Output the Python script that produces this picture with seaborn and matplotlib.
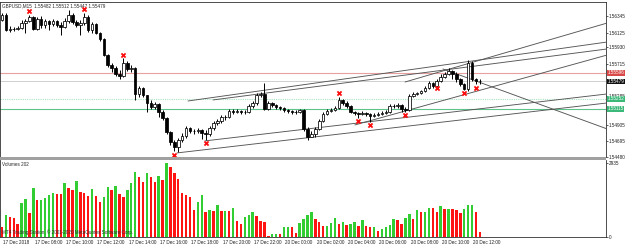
import numpy as np
import pandas as pd
import matplotlib
matplotlib.use("Agg")
import matplotlib.pyplot as plt
import matplotlib.transforms as mtrans
from matplotlib.patches import Rectangle
import seaborn as sns

sns.set_style("white")
plt.rcParams['font.family'] = ['Liberation Sans', 'DejaVu Sans']

# GBPUSD M15 bars, open = previous close
first_open = 1.56292
close = [1.56358, 1.56160, 1.56173, 1.56167, 1.56186, 1.56252, 1.56279, 1.56332, 1.56173, 1.56305,
         1.56226, 1.56279, 1.56239, 1.56279, 1.56226, 1.56200, 1.56279, 1.56358, 1.56266, 1.56226,
         1.56252, 1.56332, 1.56160, 1.56239, 1.56120, 1.56041, 1.55829, 1.55697, 1.55658, 1.55578,
         1.55552, 1.55724, 1.55644, 1.55658, 1.55314, 1.55393, 1.55301, 1.55195, 1.55142, 1.55182,
         1.55076, 1.54997, 1.54812, 1.54679, 1.54613, 1.54706, 1.54759, 1.54864, 1.54825, 1.54818,
         1.54838, 1.54798, 1.54785, 1.54864, 1.54930, 1.54957, 1.55010, 1.55003, 1.55089, 1.55076,
         1.55089, 1.55069, 1.55076, 1.55155, 1.55195, 1.55301, 1.55314, 1.55116, 1.55195, 1.55168,
         1.55142, 1.55129, 1.55096, 1.55089, 1.55069, 1.55076, 1.55096, 1.54851, 1.54745, 1.54785,
         1.54851, 1.54957, 1.55049, 1.55089, 1.55102, 1.55129, 1.55235, 1.55195, 1.55155, 1.55076,
         1.55056, 1.55049, 1.55063, 1.55043, 1.55016, 1.55036, 1.55049, 1.55063, 1.55076, 1.55155,
         1.55148, 1.55168, 1.55116, 1.55096, 1.55287, 1.55314, 1.55320, 1.55347, 1.55393, 1.55459,
         1.55413, 1.55486, 1.55539, 1.55578, 1.55618, 1.55578, 1.55512, 1.55446, 1.55380, 1.55724,
         1.55512, 1.55482, 1.55479]
high = [1.56385, 1.56385, 1.56213, 1.56200, 1.56213, 1.56292, 1.56305, 1.56358, 1.56345, 1.56332,
        1.56345, 1.56305, 1.56292, 1.56305, 1.56292, 1.56266, 1.56319, 1.56424, 1.56385, 1.56292,
        1.56292, 1.56385, 1.56358, 1.56266, 1.56252, 1.56133, 1.56054, 1.55843, 1.55724, 1.55684,
        1.55631, 1.55790, 1.55750, 1.55697, 1.55671, 1.55420, 1.55406, 1.55301, 1.55235, 1.55208,
        1.55195, 1.55102, 1.55010, 1.54825, 1.54706, 1.54732, 1.54798, 1.54891, 1.54878, 1.54851,
        1.54864, 1.54851, 1.54838, 1.54891, 1.54957, 1.54983, 1.55036, 1.55036, 1.55116, 1.55116,
        1.55116, 1.55102, 1.55102, 1.55182, 1.55221, 1.55327, 1.55340, 1.55459, 1.55221, 1.55208,
        1.55182, 1.55155, 1.55142, 1.55116, 1.55102, 1.55102, 1.55116, 1.55116, 1.54878, 1.54825,
        1.54878, 1.54983, 1.55076, 1.55116, 1.55129, 1.55155, 1.55274, 1.55248, 1.55221, 1.55168,
        1.55089, 1.55076, 1.55089, 1.55076, 1.55063, 1.55063, 1.55076, 1.55089, 1.55102, 1.55182,
        1.55182, 1.55195, 1.55182, 1.55142, 1.55314, 1.55340, 1.55340, 1.55367, 1.55420, 1.55486,
        1.55472, 1.55512, 1.55578, 1.55605, 1.55658, 1.55631, 1.55605, 1.55525, 1.55459, 1.55763,
        1.55750, 1.55525, 1.55512]
low = [1.56279, 1.56147, 1.56133, 1.56147, 1.56160, 1.56173, 1.56120, 1.56266, 1.56160, 1.56160,
       1.56186, 1.56186, 1.56160, 1.56213, 1.56200, 1.56094, 1.56186, 1.56252, 1.56239, 1.56200,
       1.56094, 1.56226, 1.56133, 1.56120, 1.56107, 1.56015, 1.55816, 1.55671, 1.55605, 1.55552,
       1.55512, 1.55539, 1.55618, 1.55605, 1.55235, 1.55274, 1.55274, 1.55076, 1.55116, 1.55116,
       1.55010, 1.54970, 1.54785, 1.54640, 1.54560, 1.54547, 1.54679, 1.54732, 1.54798, 1.54785,
       1.54798, 1.54719, 1.54706, 1.54759, 1.54838, 1.54904, 1.54930, 1.54970, 1.54997, 1.55049,
       1.55063, 1.55049, 1.55049, 1.55063, 1.55129, 1.55168, 1.55274, 1.55102, 1.55102, 1.55142,
       1.55116, 1.55102, 1.55076, 1.55063, 1.55049, 1.55049, 1.55063, 1.54825, 1.54706, 1.54745,
       1.54745, 1.54838, 1.54944, 1.55036, 1.55076, 1.55089, 1.55116, 1.55168, 1.55129, 1.55063,
       1.55036, 1.54997, 1.55036, 1.55023, 1.54944, 1.55010, 1.55023, 1.55036, 1.55049, 1.55063,
       1.55129, 1.55129, 1.55076, 1.55076, 1.55089, 1.55274, 1.55301, 1.55314, 1.55340, 1.55380,
       1.55393, 1.55433, 1.55472, 1.55525, 1.55565, 1.55512, 1.55472, 1.55420, 1.55367, 1.55354,
       1.55486, 1.55446, 1.55447]
volume = [397, 874, 795, 755, 517, 1351, 1510, 954, 1947, 1455,
          1485, 1550, 1669, 1749, 1709, 1690, 2146, 1947, 1868, 2225,
          1788, 1749, 1629, 1908, 1629, 1391, 1590, 1987, 1868, 2027,
          1709, 1590, 1868, 2146, 2583, 2384, 2186, 2543, 2384, 2186,
          2424, 2265, 2935, 2782, 2543, 2305, 1749, 1669, 1590, 1073,
          1391, 1669, 994, 1073, 1033, 1272, 1020, 1040, 1030, 1152,
          636, 517, 795, 874, 994, 835, 636, 596, 40, 119,
          130, 115, 397, 410, 390, 159, 556, 715, 874, 994,
          715, 596, 437, 450, 556, 755, 517, 596, 477, 517,
          596, 437, 676, 430, 397, 410, 238, 318, 397, 477,
          715, 676, 517, 755, 914, 715, 1073, 994, 1010, 1152,
          1140, 994, 1232, 1113, 1125, 1110, 1073, 954, 1113, 1272,
          1280, 994, 202]

time_ticks = list(range(0, 121, 8))
time_labels = ["17 Dec 2018", "17 Dec 08:00", "17 Dec 10:00", "17 Dec 12:00", "17 Dec 14:00",
               "17 Dec 16:00", "17 Dec 18:00", "17 Dec 20:00", "17 Dec 22:00", "20 Dec 00:00",
               "20 Dec 02:00", "20 Dec 04:00", "20 Dec 06:00", "20 Dec 08:00", "20 Dec 10:00",
               "20 Dec 12:00"]
price_ticks = [1.56345, 1.56125, 1.55930, 1.55715, 1.55285, 1.54905, 1.54695, 1.54480]

# red crosses
mark_bar = [7, 21, 31, 44, 52, 86, 91, 94, 103, 111, 118, 121]
mark_price = [1.56411, 1.56437, 1.55829, 1.54507, 1.54666, 1.55327, 1.54957, 1.54904,
              1.55036, 1.55393, 1.55327, 1.55393]

# trend lines: start bar/price, end bar/price
tl_bar0 = [47.5, 53.9, 102.9, 90.1, 112.6, 44.7, 51.8]
tl_p0 = [1.55221, 1.55235, 1.55472, 1.54904, 1.55644, 1.54534, 1.54693]
tl_bar1 = [154.5, 154.5, 154.5, 154.5, 154.5, 154.5, 154.5]
tl_p1 = [1.56001, 1.55909, 1.56252, 1.55829, 1.54851, 1.55195, 1.55314]

level_red = 1.55596
level_bid = 1.55479
level_green1 = 1.55252
level_green2 = 1.55115
vol_max = 2935

title = "GBPUSD,M15  1.55482 1.55512 1.55447 1.55479"
fs = 3.3

close = np.array(close)
high = np.array(high)
low = np.array(low)
n = len(close)
bars = np.arange(n)
opens = np.r_[first_open, close[:-1]]

W, H = 625, 247
fig = plt.figure(figsize=(W / 100, H / 100), dpi=100)
fig.patch.set_facecolor('white')


def box(x0, y0, x1, y1):
    return [x0 / W, 1 - y1 / H, (x1 - x0) / W, (y1 - y0) / H]


ax = fig.add_axes(box(0, 2, 606, 157))
axv = fig.add_axes(box(0, 160, 606, 237))
x_lim = (-0.51, 154.2)

# price panel
up = close >= opens
body_lo = np.minimum(opens, close)
body_h = np.maximum(np.abs(close - opens), 0.00002)
ax.vlines(bars, low, high, color='black', lw=0.7, zorder=3)
ax.bar(bars, body_h, bottom=body_lo, width=0.66,
       color=np.where(up, 'white', 'black'), edgecolor='black', linewidth=0.55, zorder=4)

ax.axhline(level_red, color='#e8a0a0', lw=0.8, zorder=1)
ax.axhline(level_bid, color='#c8c8c8', lw=0.6, zorder=1)
ax.axhline(level_green1, color='#a8e4bc', lw=0.8, ls=(0, (1, 1)), zorder=1)
ax.axhline(level_green2, color='#5cc48c', lw=0.8, zorder=1)

for b0, p0, b1, p1 in zip(tl_bar0, tl_p0, tl_bar1, tl_p1):
    ax.plot([b0, b1], [p0, p1], color='#555555', lw=0.65, zorder=2)

ax.scatter(mark_bar, mark_price, marker='x', color='#ff1010', s=9, linewidths=1.3, zorder=6)

ax.set_xlim(*x_lim)
ax.set_ylim(1.54481, 1.56530)
ax.set_xticks([])
ax.yaxis.tick_right()
ax.set_yticks(price_ticks)
ax.set_yticklabels([f"{p:.5f}" for p in price_ticks], fontsize=fs)
ax.tick_params(axis='y', length=1.5, width=0.5, pad=0.5, colors='#202020')
for s in ['left', 'top', 'right']:
    ax.spines[s].set_color('#303030')
    ax.spines[s].set_linewidth(0.6)
ax.spines['bottom'].set_visible(False)
ax.text(0.004, 0.99, title, transform=ax.transAxes, fontsize=fs, va='top', ha='left')

trans = mtrans.blended_transform_factory(ax.transAxes, ax.transData)
for lvl, face in [(level_red, '#d84848'), (level_bid, '#101010'),
                  (level_green1, '#3cb878'), (level_green2, '#3cb878')]:
    ax.text(1.003, lvl, f"{lvl:.5f}", transform=trans, fontsize=fs, color='white',
            va='center', ha='left', clip_on=False, zorder=7,
            bbox=dict(facecolor=face, edgecolor='none', pad=0.3))

# separator band
fig.add_artist(Rectangle((0, 1 - 160 / H), 606 / W, 3 / H, transform=fig.transFigure,
                         facecolor='#a0a0a0', edgecolor='none'))

# volume panel
vol = np.array(volume)
direction = np.where(np.r_[False, vol[1:] > vol[:-1]], 'up', 'down')
df = pd.DataFrame({'bar': bars, 'volume': vol, 'dir': direction})
sns.barplot(data=df, x='bar', y='volume', hue='dir', palette={'up': '#32cd32', 'down': '#ff1414'},
            dodge=False, native_scale=True, width=0.62, saturation=1, legend=False,
            errorbar=None, linewidth=0, antialiased=False, ax=axv)
axv.set_xlim(*x_lim)
axv.set_ylim(0, 3060)
axv.set_xlabel('')
axv.set_ylabel('')
axv.yaxis.tick_right()
axv.set_yticks([0, vol_max])
axv.set_yticklabels(['0', str(vol_max)], fontsize=fs)
axv.tick_params(axis='y', length=1.5, width=0.5, pad=0.5, colors='#202020')
axv.set_xticks(time_ticks)
axv.set_xticklabels(time_labels, fontsize=fs, ha='left')
axv.tick_params(axis='x', length=2, width=0.5, pad=0.4, colors='#202020')
shift = mtrans.ScaledTranslation(1.2 / 100, 0, fig.dpi_scale_trans)
for lbl in axv.get_xticklabels():
    lbl.set_transform(lbl.get_transform() + shift)
for s in ['left', 'bottom', 'right']:
    axv.spines[s].set_color('#303030')
    axv.spines[s].set_linewidth(0.6)
axv.spines['top'].set_visible(False)
axv.text(0.004, 0.97, f"Volumes {volume[-1]}", transform=axv.transAxes, fontsize=fs,
         va='top', ha='left')
axv.text(0.004, 0.02, "MT4 Trading Station, \u00a9 2001-2020 MetaQuotes Software Corp.",
         transform=axv.transAxes, fontsize=fs, va='bottom', ha='left', color='#303030', zorder=5)

fig.savefig("out.png", dpi=100)
